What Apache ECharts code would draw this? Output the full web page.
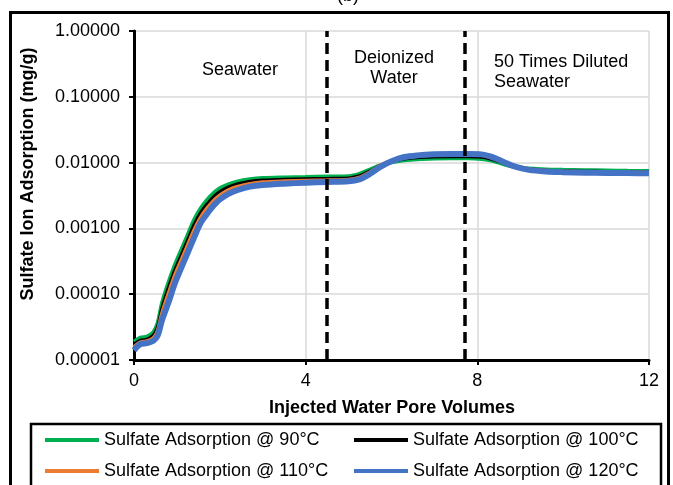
<!DOCTYPE html>
<html>
<head>
<meta charset="utf-8">
<script src="https://cdn.jsdelivr.net/npm/echarts@6/dist/echarts.min.js"></script>
<style>html,body{margin:0;padding:0;background:#fff;}#c{width:673px;height:485px;}</style>
</head>
<body>
<div id="c"></div>
<script>
var xTicks = [0, 4, 8, 12];
var yTickLabels = ['0.00001','0.00010','0.00100','0.01000','0.10000','1.00000'];
var seriesNames = ['Sulfate Adsorption @ 90°C','Sulfate Adsorption @ 100°C','Sulfate Adsorption @ 110°C','Sulfate Adsorption @ 120°C'];
var regionLabels = ['Seawater', 'Deionized\nWater', '50 Times Diluted\nSeawater'];
var boundaries = [4.5, 7.7];
var xValues = [0,0.15,0.3,0.45,0.55,0.65,0.8,0.95,1.1,1.25,1.4,1.55,1.7,1.85,2.0,2.2,2.4,2.7,3.0,3.5,4.0,4.5,5.0,5.25,5.5,5.75,6.0,6.3,6.6,7.0,7.4,7.8,8.1,8.3,8.5,8.7,8.9,9.2,9.6,10.0,10.5,11.0,11.5,12.0];
var ads90 = [1.91e-5,2.19e-5,2.26e-5,2.63e-5,3.63e-5,7.24e-5,1.48e-4,2.75e-4,4.68e-4,7.94e-4,1.35e-3,2.00e-3,2.69e-3,3.41e-3,4.07e-3,4.68e-3,5.13e-3,5.57e-3,5.82e-3,5.96e-3,6.05e-3,6.14e-3,6.22e-3,6.76e-3,7.85e-3,9.12e-3,1.012e-2,1.084e-2,1.127e-2,1.153e-2,1.161e-2,1.161e-2,1.135e-2,1.084e-2,1.0e-2,9.12e-3,8.51e-3,8.13e-3,7.85e-3,7.76e-3,7.67e-3,7.59e-3,7.50e-3,7.45e-3];
var ads100 = [1.74e-5,2.0e-5,2.07e-5,2.40e-5,3.24e-5,6.17e-5,1.26e-4,2.34e-4,3.98e-4,6.76e-4,1.15e-3,1.74e-3,2.34e-3,3.02e-3,3.63e-3,4.27e-3,4.73e-3,5.19e-3,5.43e-3,5.60e-3,5.69e-3,5.75e-3,5.85e-3,6.31e-3,7.50e-3,9.12e-3,1.035e-2,1.135e-2,1.189e-2,1.216e-2,1.225e-2,1.225e-2,1.202e-2,1.135e-2,1.035e-2,9.33e-3,8.61e-3,8.04e-3,7.67e-3,7.50e-3,7.41e-3,7.33e-3,7.28e-3,7.24e-3];
var ads110 = [1.58e-5,1.86e-5,1.93e-5,2.14e-5,2.75e-5,5.01e-5,1.0e-4,1.91e-4,3.24e-4,5.50e-4,9.33e-4,1.45e-3,2.0e-3,2.60e-3,3.16e-3,3.80e-3,4.27e-3,4.73e-3,5.01e-3,5.19e-3,5.31e-3,5.37e-3,5.47e-3,5.89e-3,7.16e-3,9.02e-3,1.059e-2,1.202e-2,1.274e-2,1.312e-2,1.324e-2,1.324e-2,1.303e-2,1.216e-2,1.084e-2,9.55e-3,8.71e-3,7.94e-3,7.50e-3,7.33e-3,7.21e-3,7.13e-3,7.08e-3,7.03e-3];
var ads120 = [1.41e-5,1.74e-5,1.80e-5,1.95e-5,2.34e-5,3.98e-5,7.41e-5,1.45e-4,2.51e-4,4.27e-4,7.24e-4,1.20e-3,1.66e-3,2.21e-3,2.75e-3,3.35e-3,3.80e-3,4.31e-3,4.57e-3,4.79e-3,4.95e-3,5.07e-3,5.19e-3,5.56e-3,6.76e-3,8.71e-3,1.047e-2,1.216e-2,1.288e-2,1.334e-2,1.349e-2,1.349e-2,1.334e-2,1.245e-2,1.109e-2,9.66e-3,8.61e-3,7.76e-3,7.33e-3,7.16e-3,7.03e-3,6.97e-3,6.92e-3,6.87e-3];

var FF = 'Liberation Sans, Arial, sans-serif';
var colors = ['#00B050','#000000','#ED7D31','#4472C4'];
var widths = [4, 3, 4, 6];
var allData = [ads90, ads100, ads110, ads120];

function pairs(ys){ return xValues.map(function(x,i){ return [x, ys[i]]; }); }

var series = allData.map(function(ys, i){
  var s = {
    name: seriesNames[i], type: 'line', data: pairs(ys), showSymbol: false, symbol: 'none',
    smooth: 0.3, lineStyle: {color: colors[i], width: widths[i]}, itemStyle: {color: colors[i]},
    z: 2 + i, silent: true
  };
  if (i === 3) {
    s.markLine = {
      silent: true, symbol: ['none','none'], label: {show: false},
      lineStyle: {color: '#000', width: 3.5, type: [11, 6]},
      data: boundaries.map(function(b){ return {xAxis: b}; }),
      z: 10
    };
  }
  return s;
});

var chart = echarts.init(document.getElementById('c'), null, {renderer: 'canvas'});
chart.setOption({
  animation: false,
  backgroundColor: '#fff',
  grid: {left: 134, right: 24, top: 31, bottom: 125, containLabel: false},
  xAxis: {
    type: 'value', min: 0, max: 12, interval: 4,
    axisLine: {show: true, onZero: false, lineStyle: {color: '#000', width: 3}},
    axisTick: {show: true, length: 5, lineStyle: {color: '#000', width: 2}},
    axisLabel: {margin: 12, fontSize: 18, fontFamily: FF, color: '#000',
      formatter: function(v){ return xTicks.indexOf(v) >= 0 ? String(v) : ''; }},
    splitLine: {show: true, lineStyle: {color: '#d9d9d9', width: 1.5}}
  },
  yAxis: {
    type: 'log', logBase: 10, min: 0.00001, max: 1, splitNumber: 5,
    axisLine: {show: true, lineStyle: {color: '#000', width: 3}},
    axisTick: {show: true, length: 5, lineStyle: {color: '#000', width: 2}},
    axisLabel: {margin: 14, fontSize: 18, fontFamily: FF, color: '#000',
      formatter: function(v){ var e = Math.round(Math.log10(v)); return yTickLabels[e + 5]; }},
    splitLine: {show: true, lineStyle: {color: '#d9d9d9', width: 1.5}}
  },
  legend: [
    {data: [seriesNames[0], seriesNames[2]], orient: 'vertical', left: 45, top: 431, padding: 0,
     itemGap: 13, itemWidth: 54, itemHeight: 4, icon: 'rect',
     textStyle: {fontSize: 18, fontFamily: FF, color: '#000', lineHeight: 18}},
    {data: [seriesNames[1], seriesNames[3]], orient: 'vertical', left: 354, top: 431, padding: 0,
     itemGap: 13, itemWidth: 54, itemHeight: 4, icon: 'rect',
     textStyle: {fontSize: 18, fontFamily: FF, color: '#000', lineHeight: 18}}
  ],
  graphic: [
    {type: 'rect', shape: {x: 10.5, y: 12.5, width: 658, height: 520}, style: {fill: null, stroke: '#000', lineWidth: 3}, silent: true},
    {type: 'rect', shape: {x: 31, y: 424, width: 630, height: 100}, style: {fill: null, stroke: '#000', lineWidth: 2.5}, silent: true},
    {type: 'text', x: 348, y: 5, style: {text: '(b)', font: '18px ' + FF, fill: '#000', textAlign: 'center', textVerticalAlign: 'bottom'}, silent: true},
    {type: 'text', x: 240, y: 70, style: {text: regionLabels[0], font: '18px ' + FF, fill: '#000', textAlign: 'center', textVerticalAlign: 'middle'}, silent: true},
    {type: 'text', x: 394, y: 68, style: {text: regionLabels[1], font: '18px ' + FF, lineHeight: 20, fill: '#000', textAlign: 'center', textVerticalAlign: 'middle'}, silent: true},
    {type: 'text', x: 494, y: 72, style: {text: regionLabels[2], font: '18px ' + FF, lineHeight: 20, fill: '#000', textAlign: 'left', textVerticalAlign: 'middle'}, silent: true},
    {type: 'text', x: 392, y: 408, style: {text: 'Injected Water Pore Volumes', font: 'bold 18px ' + FF, fill: '#000', textAlign: 'center', textVerticalAlign: 'middle'}, silent: true},
    {type: 'text', x: 28, y: 174, rotation: Math.PI / 2, style: {text: 'Sulfate Ion Adsorption (mg/g)', font: 'bold 18px ' + FF, fill: '#000', textAlign: 'center', textVerticalAlign: 'middle'}, silent: true}
  ],
  series: series
});
</script>
</body>
</html>
